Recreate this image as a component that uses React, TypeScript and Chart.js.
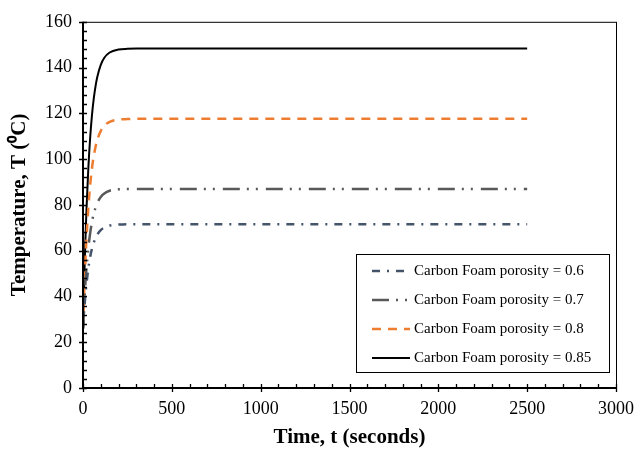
import React, { useEffect, useRef } from "react";
import { Chart, registerables } from "chart.js";

Chart.register(...registerables);

const timeSeconds = [0, 5, 10, 15, 20, 30, 40, 50, 60, 70, 80, 100, 120, 150, 200, 250, 300, 400, 500, 750, 1000, 1250, 1500, 1750, 2000, 2250, 2500];

const porosity060 = [26, 32.1, 37.3, 41.9, 45.8, 52.2, 57.1, 60.7, 63.4, 65.4, 67, 69, 70.1, 71, 71.4, 71.6, 71.6, 71.6, 71.6, 71.6, 71.6, 71.6, 71.6, 71.6, 71.6, 71.6, 71.6];
const porosity070 = [26, 34.1, 41.2, 47.3, 52.6, 61.1, 67.5, 72.4, 76, 78.7, 80.8, 83.5, 85, 86.2, 86.8, 87, 87, 87, 87, 87, 87, 87, 87, 87, 87, 87, 87];
const porosity080 = [26, 38.2, 48.8, 57.9, 65.9, 78.7, 88.4, 95.7, 101.1, 105.2, 108.3, 112.3, 114.6, 116.3, 117.3, 117.5, 117.6, 117.6, 117.6, 117.6, 117.6, 117.6, 117.6, 117.6, 117.6, 117.6, 117.6];
const porosity085 = [25, 41.4, 55.6, 68, 78.7, 96, 109, 118.8, 126.1, 131.6, 135.8, 141.2, 144.3, 146.6, 147.9, 148.2, 148.3, 148.3, 148.3, 148.3, 148.3, 148.3, 148.3, 148.3, 148.3, 148.3, 148.3];

const seriesLabels = [
  "Carbon Foam porosity = 0.6",
  "Carbon Foam porosity = 0.7",
  "Carbon Foam porosity = 0.8",
  "Carbon Foam porosity = 0.85",
];

const X_MIN = 0, X_MAX = 3000, X_STEP = 500, X_MINOR = 100;
const Y_MIN = 0, Y_MAX = 160, Y_STEP = 20, Y_MINOR = 4;

const FONT = "'Liberation Serif', 'Times New Roman', serif";

const toPoints = (ys: number[]) => ys.map((y, i) => ({ x: timeSeconds[i], y }));

const decorPlugin = {
  id: "decor",
  afterDraw(chart: any) {
    const { ctx, chartArea } = chart;
    const xs = chart.scales.x;
    const ys = chart.scales.y;
    ctx.save();
    // frame
    ctx.strokeStyle = "#000";
    ctx.lineWidth = 1;
    ctx.strokeRect(chartArea.left + 0.5, chartArea.top + 0.5, chartArea.right - chartArea.left, chartArea.bottom - chartArea.top);
    ctx.lineWidth = 2;
    ctx.beginPath();
    ctx.moveTo(chartArea.left, chartArea.top);
    ctx.lineTo(chartArea.left, chartArea.bottom);
    ctx.lineTo(chartArea.right + 1, chartArea.bottom);
    ctx.stroke();
    // ticks
    ctx.lineWidth = 1.3;
    ctx.beginPath();
    for (let v = X_MIN; v <= X_MAX; v += X_MINOR) {
      const px = Math.round(xs.getPixelForValue(v)) + 0.5;
      const major = v % X_STEP === 0;
      ctx.moveTo(px, chartArea.bottom - 4);
      ctx.lineTo(px, chartArea.bottom + (major ? 4 : 0));
    }
    for (let v = Y_MIN; v <= Y_MAX; v += Y_MINOR) {
      const py = Math.round(ys.getPixelForValue(v)) + 0.5;
      const major = v % Y_STEP === 0;
      ctx.moveTo(chartArea.left - (major ? 4 : 0), py);
      ctx.lineTo(chartArea.left + 4, py);
    }
    ctx.stroke();

    // legend
    const bx = chartArea.right - 260;
    const by = chartArea.bottom - 134;
    const bw = 253;
    const bh = 118;
    ctx.fillStyle = "#fff";
    ctx.fillRect(bx, by, bw, bh);
    ctx.strokeStyle = "#000";
    ctx.lineWidth = 1;
    ctx.strokeRect(bx + 0.5, by + 0.5, bw, bh);
    ctx.font = `15px ${FONT}`;
    ctx.textBaseline = "middle";
    ctx.textAlign = "left";
    chart.data.datasets.forEach((ds: any, i: number) => {
      const cy = by + 17 + i * 29;
      ctx.save();
      ctx.strokeStyle = ds.borderColor;
      ctx.lineWidth = ds.borderWidth;
      ctx.setLineDash(ds.borderDash || []);
      ctx.beginPath();
      ctx.moveTo(bx + 16, cy);
      ctx.lineTo(bx + 54, cy);
      ctx.stroke();
      ctx.restore();
      ctx.fillStyle = "#000";
      ctx.fillText(ds.label, bx + 58, cy);
    });
    ctx.restore();
  },
};

export default function App() {
  const ref = useRef<HTMLCanvasElement | null>(null);
  useEffect(() => {
    if (!ref.current) return;
    const chart = new Chart(ref.current, {
      type: "line",
      data: {
        datasets: [
          {
            label: seriesLabels[0],
            data: toPoints(porosity060),
            borderColor: "#44546A",
            borderWidth: 2.5,
            borderDash: [8, 7, 2, 7],
          },
          {
            label: seriesLabels[1],
            data: toPoints(porosity070),
            borderColor: "#595959",
            borderWidth: 2.5,
            borderDash: [17, 7, 2, 7, 2, 8],
          },
          {
            label: seriesLabels[2],
            data: toPoints(porosity080),
            borderColor: "#ED7D31",
            borderWidth: 2.5,
            borderDash: [9, 7],
          },
          {
            label: seriesLabels[3],
            data: toPoints(porosity085),
            borderColor: "#000000",
            borderWidth: 2,
            borderDash: [],
          },
        ] as any,
      },
      options: {
        animation: false,
        responsive: false,
        parsing: false as any,
        layout: { padding: { left: 0, right: 25, top: 18, bottom: 0 } },
        elements: {
          point: { radius: 0 },
          line: { tension: 0.3, cubicInterpolationMode: "monotone", fill: false },
        },
        plugins: {
          legend: { display: false },
          tooltip: { enabled: false },
        },
        scales: {
          x: {
            type: "linear",
            min: X_MIN,
            max: X_MAX,
            ticks: {
              stepSize: X_STEP,
              color: "#000",
              font: { family: FONT, size: 18 },
              padding: 10,
              maxRotation: 0,
              callback: (v: any) => String(v),
            },
            grid: { display: false, drawTicks: false },
            border: { display: false },
            title: {
              display: true,
              text: "Time, t (seconds)",
              color: "#000",
              font: { family: FONT, size: 21, weight: "bold" },
              padding: { top: 0, bottom: 1 },
            },
            afterFit: (s: any) => {
              s.height = 63;
            },
          },
          y: {
            type: "linear",
            min: Y_MIN,
            max: Y_MAX,
            ticks: {
              stepSize: Y_STEP,
              color: "#000",
              font: { family: FONT, size: 18 },
              padding: 11,
              callback: (v: any) => String(v),
            },
            grid: { display: false, drawTicks: false },
            border: { display: false },
            title: {
              display: true,
              text: "Temperature, T (\u2070C)",
              color: "#000",
              font: { family: FONT, size: 21, weight: "bold" },
              padding: { top: 7, bottom: 0 },
            },
            afterFit: (s: any) => {
              s.width = 83;
            },
          },
        },
      },
      plugins: [decorPlugin],
    });
    return () => chart.destroy();
  }, []);
  return (
    <div style={{ position: "absolute", left: 0, top: 0, width: 644, height: 451, background: "#fff" }}>
      <canvas ref={ref} width={644} height={451} style={{ display: "block" }} />
    </div>
  );
}
